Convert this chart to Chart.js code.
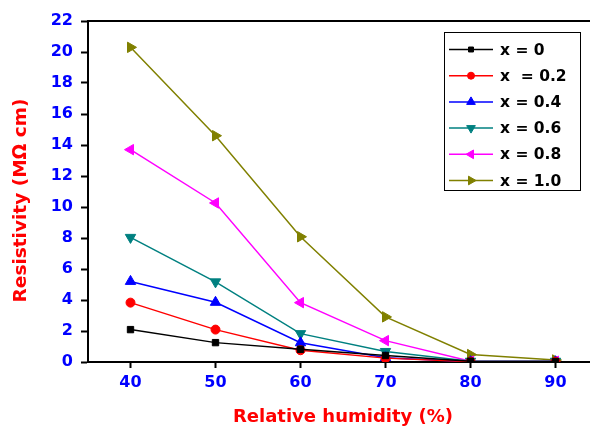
<!DOCTYPE html>
<html><head><meta charset="utf-8">
<script src="https://cdn.jsdelivr.net/npm/chart.js@4/dist/chart.umd.min.js"></script>
<style>html,body{margin:0;padding:0;background:#fff;overflow:hidden;width:590px;height:428px}
#wrap{position:relative;width:610px;height:428px}</style>
</head><body><div id="wrap"><canvas id="c" width="610" height="428"></canvas></div>
<script>
const humidity = [40, 50, 60, 70, 80, 90];
const labels = ['x = 0', 'x  = 0.2', 'x = 0.4', 'x = 0.6', 'x = 0.8', 'x = 1.0'];
const s0 = [2.09, 1.25, 0.82, 0.42, 0.05, 0.03];
const s02 = [3.83, 2.09, 0.76, 0.25, 0.02, 0.02];
const s04 = [5.2, 3.85, 1.24, 0.28, 0.02, 0.02];
const s06 = [8.04, 5.17, 1.83, 0.68, 0.05, 0.05];
const s08 = [13.7, 10.26, 3.83, 1.38, 0.05, 0.05];
const s10 = [20.3, 14.6, 8.08, 2.91, 0.48, 0.13];
const yTicks = [0, 2, 4, 6, 8, 10, 12, 14, 16, 18, 20, 22];
const yTitle = 'Resistivity (MΩ cm)';
const xTitle = 'Relative humidity (%)';

const colors = ['#000000', '#ff0000', '#0000ff', '#008080', '#ff00ff', '#808000'];
const styles = ['rect', 'circle', 'triangle', 'triangle', 'triangle', 'triangle'];
const rots = [0, 0, 0, 180, -90, 90];
const series = [s0, s02, s04, s06, s08, s10];
const FONT = '"DejaVu Sans", Arial, sans-serif';

const datasets = series.map((s, i) => ({
  label: labels[i],
  data: humidity.map((h, j) => ({x: h, y: s[j]})),
  borderColor: colors[i], backgroundColor: colors[i],
  borderWidth: 1.5, pointStyle: styles[i], pointRotation: rots[i],
  pointRadius: i < 2 ? 4.5 : 6, pointBorderWidth: 1, tension: 0
}));

const legendPlugin = {
  id: 'boxLegend',
  afterDraw(chart) {
    const ctx = chart.ctx;
    const bx = 444.5, by = 32.5, bw = 136, bh = 158;
    ctx.save();
    ctx.fillStyle = '#fff';
    ctx.fillRect(bx, by, bw, bh);
    ctx.strokeStyle = '#000'; ctx.lineWidth = 1;
    ctx.strokeRect(bx, by, bw, bh);
    chart.data.datasets.forEach((d, i) => {
      const y = 49.5 + i * 26.2;
      ctx.strokeStyle = d.borderColor; ctx.lineWidth = 1.5;
      ctx.beginPath(); ctx.moveTo(449, y); ctx.lineTo(493, y); ctx.stroke();
      ctx.fillStyle = d.backgroundColor; ctx.strokeStyle = d.borderColor; ctx.lineWidth = 1;
      Chart.helpers.drawPoint(ctx, {pointStyle: d.pointStyle, rotation: d.pointRotation, radius: i < 2 ? 3.5 : 5, borderWidth: 1}, 471, y);
      ctx.fillStyle = '#000';
      ctx.font = 'bold 15.5px ' + FONT;
      ctx.textBaseline = 'middle'; ctx.textAlign = 'left';
      ctx.fillText(d.label, 500, y + 1);
    });
    ctx.restore();
  }
};

const framePlugin = {
  id: 'frame',
  afterDraw(chart) {
    const a = chart.chartArea, ctx = chart.ctx;
    ctx.save(); ctx.strokeStyle = '#000'; ctx.lineWidth = 2;
    ctx.beginPath(); ctx.moveTo(a.left, a.top); ctx.lineTo(a.right, a.top); ctx.lineTo(a.right, a.bottom); ctx.stroke();
    // y axis title
    ctx.translate(21, 200.5);
    ctx.rotate(-Math.PI / 2);
    ctx.fillStyle = '#ff0000';
    ctx.font = 'bold 18.5px ' + FONT;
    ctx.textAlign = 'center'; ctx.textBaseline = 'middle';
    ctx.fillText(yTitle, 0, 0);
    ctx.restore();
  }
};

new Chart(document.getElementById('c'), {
  type: 'line',
  data: {datasets},
  options: {
    responsive: false, animation: false,
    layout: {padding: {top: 21, right: 12, left: 0, bottom: 0}},
    plugins: {legend: {display: false}, tooltip: {enabled: false}},
    scales: {
      x: {
        type: 'linear', min: 35, max: 95,
        afterBuildTicks: s => { s.ticks = humidity.map(v => ({value: v})); },
        afterFit: s => { s.height = 66; },
        grid: {drawOnChartArea: false, drawTicks: true, tickLength: 6, color: '#000', tickWidth: 2},
        border: {display: true, color: '#000', width: 2},
        ticks: {color: '#0000ff', font: {family: FONT, size: 16, weight: 'bold'}, padding: 5},
        title: {display: true, text: xTitle, color: '#ff0000',
          font: {family: FONT, size: 18, weight: 'bold'}, padding: {top: 4, bottom: 0}}
      },
      y: {
        type: 'linear', min: 0, max: 22,
        afterBuildTicks: s => { s.ticks = yTicks.map(v => ({value: v})); },
        afterFit: s => { s.width = 88; },
        grid: {drawOnChartArea: false, drawTicks: true, tickLength: 7, color: '#000', tickWidth: 2},
        border: {display: true, color: '#000', width: 2},
        ticks: {color: '#0000ff', font: {family: FONT, size: 16, weight: 'bold'}, padding: 8},
        title: {display: false}
      }
    }
  },
  plugins: [legendPlugin, framePlugin]
});
</script></body></html>
